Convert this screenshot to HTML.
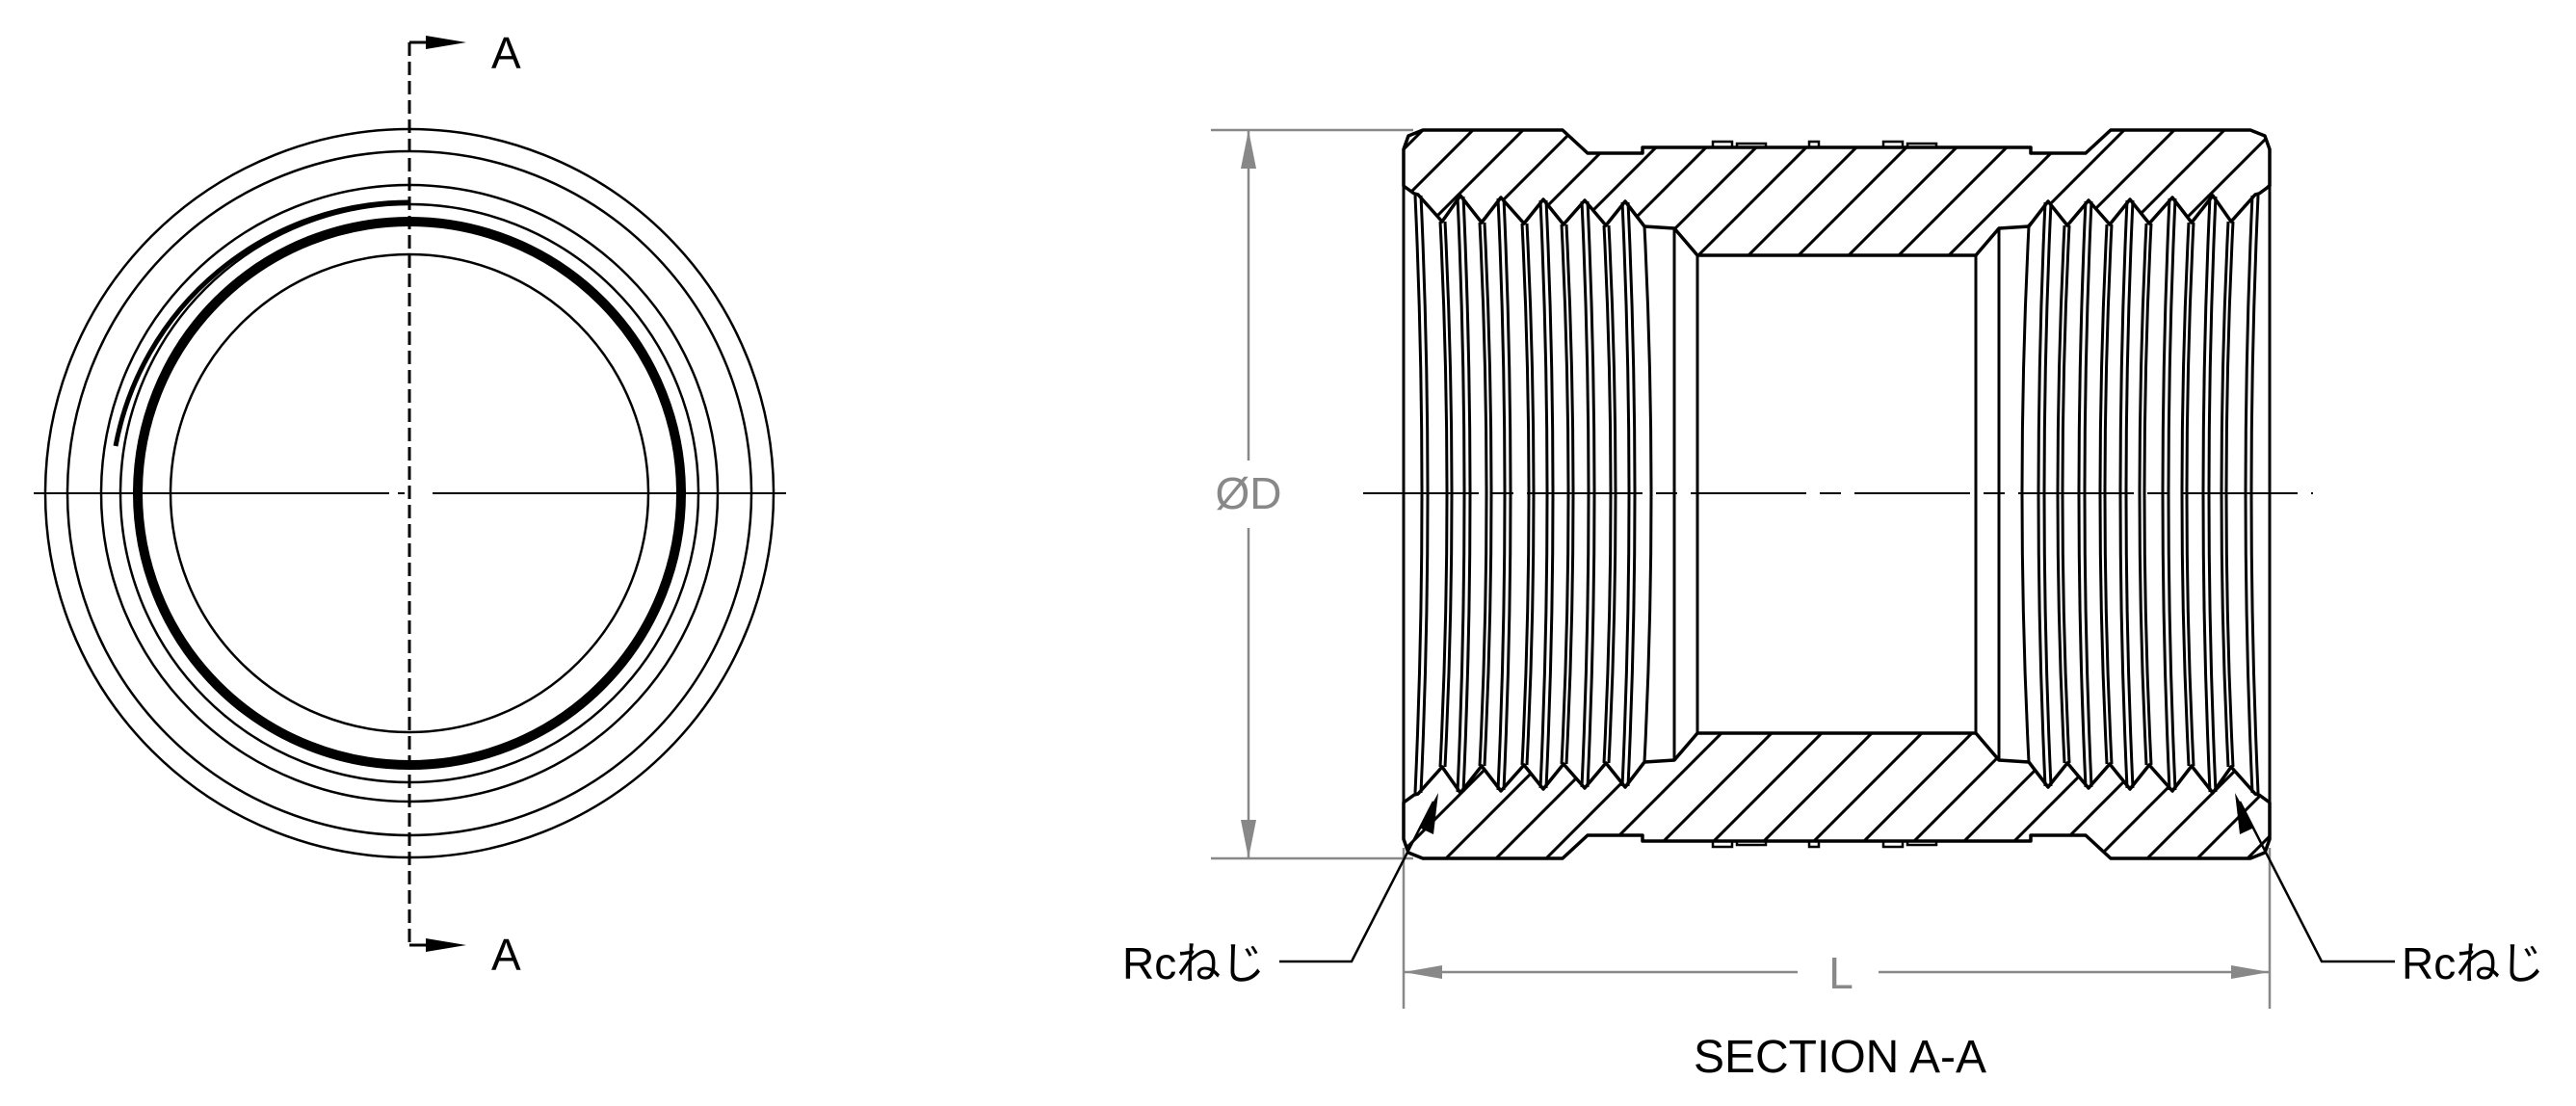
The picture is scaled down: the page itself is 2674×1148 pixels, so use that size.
<!DOCTYPE html>
<html><head><meta charset="utf-8"><style>
html,body{margin:0;padding:0;background:#fff}
svg{display:block}
text{font-family:"Liberation Sans","Noto Sans CJK JP",sans-serif}
</style></head><body>
<svg width="2674" height="1148" viewBox="0 0 2674 1148" xmlns="http://www.w3.org/2000/svg">
<defs>
<pattern id="h" patternUnits="userSpaceOnUse" width="52" height="52">
<line x1="-2" y1="54" x2="54" y2="-2" stroke="#000" stroke-width="3"/>
<line x1="-28" y1="28" x2="28" y2="-28" stroke="#000" stroke-width="3"/>
<line x1="24" y1="80" x2="80" y2="24" stroke="#000" stroke-width="3"/>
</pattern>
<g id="thr" fill="none" stroke="#000" stroke-width="3">
<path d="M1469,203 Q1483,513 1469,823"/><path d="M1475,203 Q1489,513 1475,823"/>
<path d="M1495,230 Q1509,513 1495,796"/><path d="M1500,230 Q1514,513 1500,796"/>
<path d="M1513,204 Q1527,513 1513,822"/><path d="M1519,204 Q1533,513 1519,822"/>
<path d="M1536,231 Q1550,513 1536,795"/><path d="M1541,231 Q1555,513 1541,795"/>
<path d="M1555,206 Q1569,513 1555,820"/><path d="M1561,206 Q1575,513 1561,820"/>
<path d="M1580,232 Q1594,513 1580,794"/><path d="M1585,232 Q1599,513 1585,794"/>
<path d="M1599,208 Q1613,513 1599,818"/><path d="M1605,208 Q1619,513 1605,818"/>
<path d="M1621,233 Q1635,513 1621,793"/><path d="M1626,233 Q1640,513 1626,793"/>
<path d="M1642,209 Q1656,513 1642,817"/><path d="M1648,209 Q1662,513 1648,817"/>
<path d="M1665,234 Q1679,513 1665,792"/><path d="M1670,234 Q1684,513 1670,792"/>
<path d="M1684,210 Q1698,513 1684,816"/><path d="M1690,210 Q1704,513 1690,816"/>
<path d="M1707,235 Q1721,513 1707,791"/>
<line x1="1738" y1="237" x2="1738" y2="789"/>
<line x1="1762" y1="265" x2="1762" y2="761"/>
<line x1="1457" y1="155" x2="1457" y2="871"/>
</g>
</defs>

<!-- LEFT VIEW -->
<g fill="none" stroke="#000" stroke-width="2.5">
<circle cx="425" cy="512" r="378"/>
<circle cx="425" cy="512" r="355"/>
<circle cx="425" cy="512" r="320"/>
<circle cx="425" cy="512" r="300"/>
<circle cx="425" cy="512" r="248"/>
<circle cx="425" cy="512" r="282" stroke-width="10"/>
<path d="M120,463 A310,310 0 0 1 425,210" stroke-width="5"/>
</g>
<g stroke="#000" stroke-width="2">
<line x1="35" y1="512" x2="404" y2="512"/>
<line x1="413" y1="512" x2="420" y2="512"/>
<line x1="449" y1="512" x2="816" y2="512"/>
</g>
<path d="M425,44 L425,981" stroke="#000" stroke-width="3" stroke-dasharray="14,6" fill="none"/>
<path d="M425,44 L445,44 M425,981 L445,981" stroke="#000" stroke-width="3"/>
<polygon points="442,37 484,44 442,51" fill="#000"/>
<polygon points="442,974 484,981 442,988" fill="#000"/>
<text x="510" y="71" font-size="46">A</text>
<text x="510" y="1007" font-size="46">A</text>

<!-- SECTION VIEW -->
<polygon fill="url(#h)" stroke="#000" stroke-width="3.5" stroke-linejoin="round" points="1457,193 1457,155 1462,141 1477,135 1622,135 1648,159 1705,159 1705,153 2108,153 2108,159 2165,159 2191,135 2336,135 2351,141 2356,155 2356,193 2345,201 2341,202 2316,230 2297,203 2275,231 2255,205 2231,232 2211,207 2190,233 2168,208 2146,234 2126,209 2106,235 2075,237 2051,265 1762,265 1738,237 1707,235 1687,209 1667,234 1645,208 1623,233 1602,207 1582,232 1558,205 1538,231 1516,203 1497,230 1472,202 1468,201"/>
<polygon fill="url(#h)" stroke="#000" stroke-width="3.5" stroke-linejoin="round" points="1457,833 1457,871 1462,885 1477,891 1622,891 1648,867 1705,867 1705,873 2108,873 2108,867 2165,867 2191,891 2336,891 2351,885 2356,871 2356,833 2345,825 2341,824 2316,796 2297,823 2275,795 2255,821 2231,794 2211,819 2190,793 2168,818 2146,792 2126,817 2106,791 2075,789 2051,761 1762,761 1738,789 1707,791 1687,817 1667,792 1645,818 1623,793 1602,819 1582,794 1558,821 1538,795 1516,823 1497,796 1472,824 1468,825"/>
<g fill="none" stroke="#000" stroke-width="2.5">
<path d="M1778,153 v-6 h20 v6 M1803,153 v-4 h30 v4 M1878,153 v-6 h10 v6 M1955,153 v-6 h20 v6 M1980,153 v-4 h30 v4"/>
<path d="M1778,873 v6 h20 v-6 M1803,873 v4 h30 v-4 M1878,873 v6 h10 v-6 M1955,873 v6 h20 v-6 M1980,873 v4 h30 v-4"/>
</g>
<use href="#thr"/>
<use href="#thr" transform="translate(3813,0) scale(-1,1)"/>
<path d="M1415,512 L2401,512" stroke="#000" stroke-width="2" stroke-dasharray="120,14,22,14"/>

<!-- dimensions -->
<g stroke="#888" stroke-width="2.5" fill="none">
<line x1="1257" y1="135" x2="1467" y2="135"/>
<line x1="1257" y1="891" x2="1467" y2="891"/>
<line x1="1296" y1="135" x2="1296" y2="478"/>
<line x1="1296" y1="548" x2="1296" y2="891"/>
<line x1="1457" y1="880" x2="1457" y2="1047"/>
<line x1="2356" y1="880" x2="2356" y2="1047"/>
<line x1="1457" y1="1009" x2="1866" y2="1009"/>
<line x1="1950" y1="1009" x2="2356" y2="1009"/>
</g>
<g fill="#888">
<polygon points="1296,135 1288,175 1304,175"/>
<polygon points="1296,891 1288,851 1304,851"/>
<polygon points="1457,1009 1497,1002 1497,1016"/>
<polygon points="2356,1009 2316,1002 2316,1016"/>
</g>
<text x="1296" y="528" font-size="46" fill="#888" text-anchor="middle">ØD</text>
<text x="1911" y="1026" font-size="46" fill="#888" text-anchor="middle">L</text>

<!-- leaders -->
<g stroke="#000" stroke-width="2.5" fill="none">
<path d="M1328,998 L1403,998 L1488,832"/>
<path d="M2486,998 L2410,998 L2325,832"/>
</g>
<polygon points="1493,823 1473,859 1488,866" fill="#000"/>
<polygon points="2320,823 2340,859 2325,866" fill="#000"/>
<text x="1165" y="1016" font-size="46">Rcねじ</text>
<text x="2493" y="1016" font-size="46">Rcねじ</text>
<text x="1910" y="1113" font-size="48" text-anchor="middle">SECTION A-A</text>
</svg>
</body></html>
